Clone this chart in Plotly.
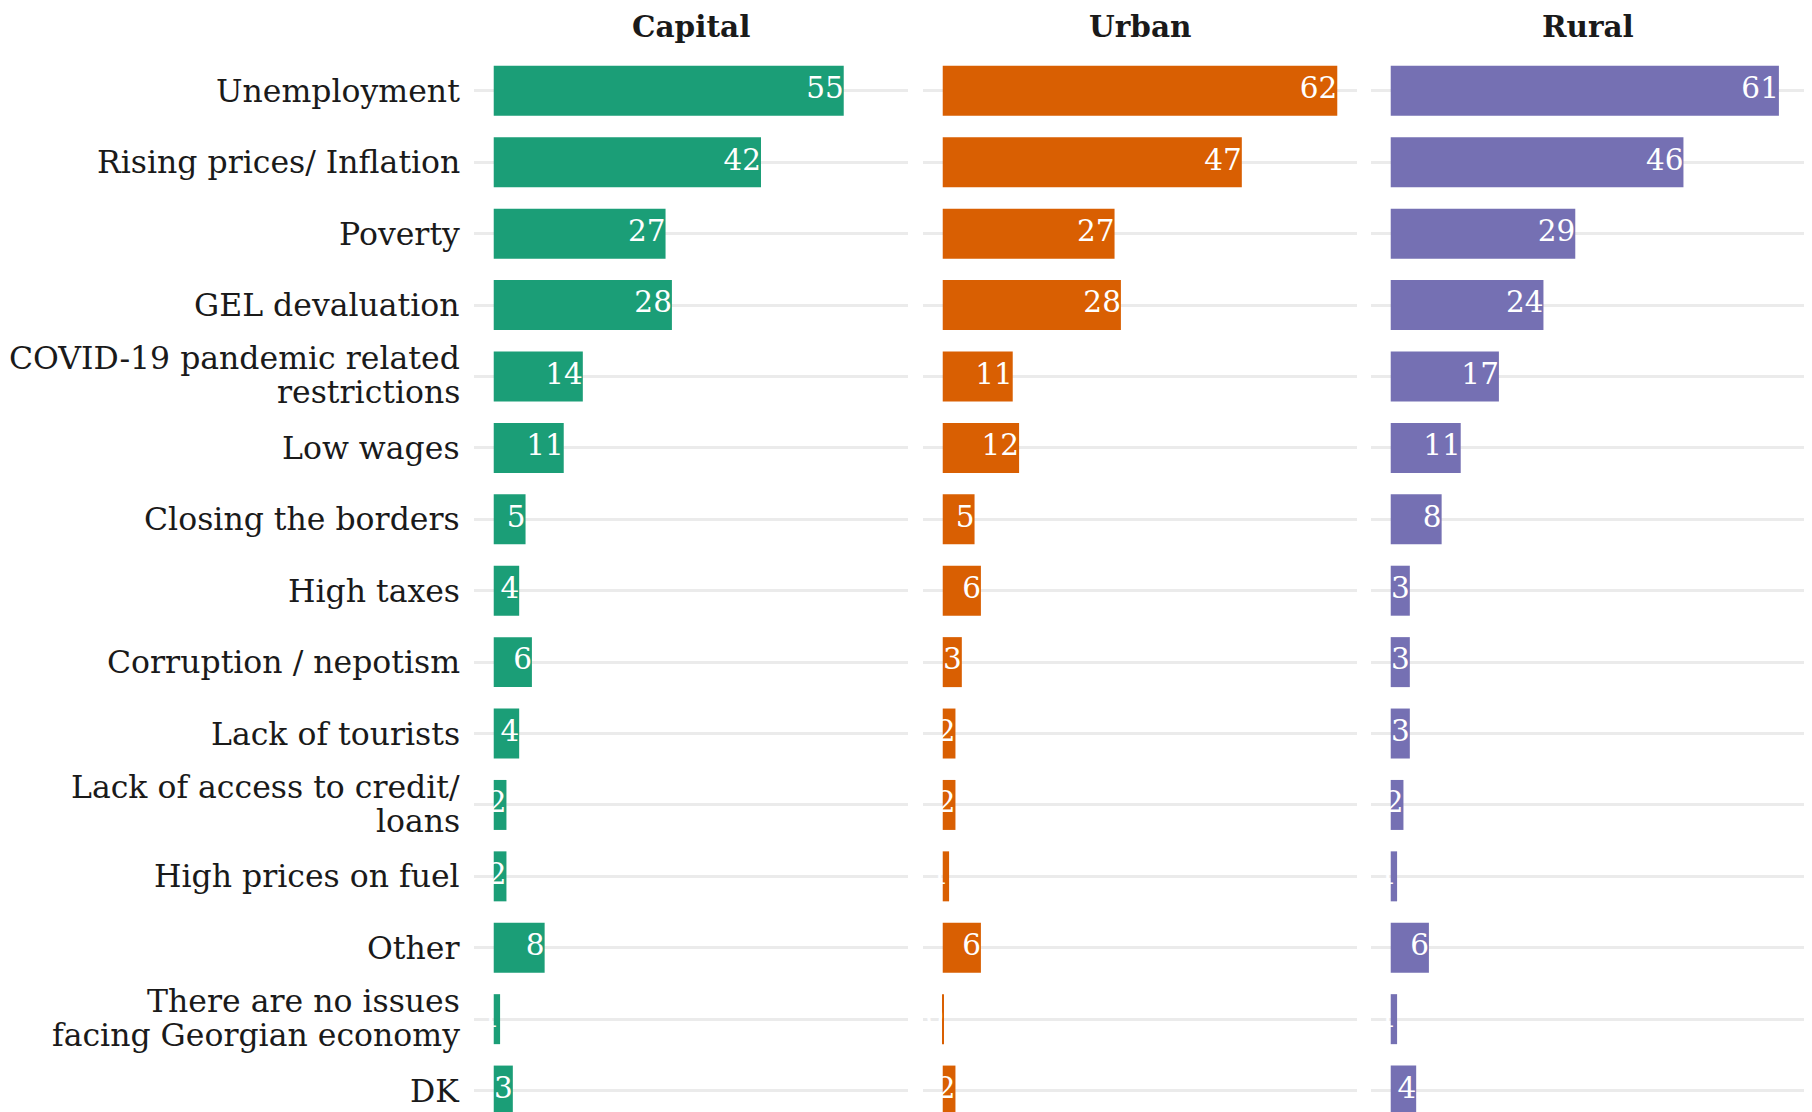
import plotly.graph_objects as go

issues = ["Unemployment", "Rising prices/ Inflation", "Poverty", "GEL devaluation",
          "COVID-19 pandemic related\nrestrictions", "Low wages", "Closing the borders",
          "High taxes", "Corruption / nepotism", "Lack of tourists",
          "Lack of access to credit/\nloans", "High prices on fuel", "Other",
          "There are no issues\nfacing Georgian economy", "DK"]

settlements = ["Capital", "Urban", "Rural"]
capital = [55, 42, 27, 28, 14, 11, 5, 4, 6, 4, 2, 2, 8, 1, 3]
urban = [62, 47, 27, 28, 11, 12, 5, 6, 3, 2, 2, 1, 6, 0.2, 2]
rural = [61, 46, 29, 24, 17, 11, 8, 3, 3, 3, 2, 1, 6, 1, 4]
colors = ["#1B9E77", "#D95F02", "#7570B3"]

FONT = "DejaVu Serif"
PAGE_OFF = 8  # page body margin around the plot div
W, H = 1812 - PAGE_OFF, 1112 - PAGE_OFF
left, right = 474 - PAGE_OFF, 7
plot_w = W - left - right
panels = [(474, 908), (923, 1357), (1371, 1805)]

fig = go.Figure()
for i, (name, vals, col) in enumerate(zip(settlements, [capital, urban, rural], colors)):
    sfx = "" if i == 0 else str(i + 1)
    fig.add_trace(go.Bar(
        x=vals, y=issues, orientation="h", marker=dict(color=col, line=dict(width=0)),
        width=0.7, showlegend=False, xaxis="x" + sfx, yaxis="y" + sfx, hoverinfo="x"))
    fig.add_trace(go.Scatter(
        x=vals, y=issues, mode="text", text=[str(round(v)) for v in vals],
        textposition="middle left", textfont=dict(family=FONT, size=29.5, color="white"),
        showlegend=False, xaxis="x" + sfx, yaxis="y" + sfx, hoverinfo="skip"))
    a, b = panels[i]
    dom = [(a - 474) / plot_w, min(1.0, (b - 474) / plot_w)]
    fig.layout["xaxis" + sfx] = dict(
        domain=dom, range=[-3.1, 65.1], showgrid=False, zeroline=False,
        showticklabels=False, anchor="y" + sfx, automargin=False)
    fig.layout["yaxis" + sfx] = dict(
        anchor="x" + sfx, type="category", categoryarray=issues, range=[14.3, -0.6],
        showgrid=True, gridcolor="#EBEBEB", gridwidth=2.5, zeroline=False,
        showticklabels=False, ticks="", automargin=False)
    fig.add_annotation(
        text="<b>%s</b>" % name, x=(dom[0] + dom[1]) / 2, y=1, xref="paper", yref="paper",
        xanchor="center", yanchor="bottom", yshift=3, borderpad=0, showarrow=False,
        font=dict(family=FONT, size=29.5, color="#1a1a1a"))

# category labels, drawn line by line for a tighter line height
for cat in issues:
    lines = cat.split("\n")
    for j, line in enumerate(lines):
        shift = 0 if len(lines) == 1 else 18 - j * 34
        fig.add_annotation(
            text=line, x=0, y=cat, xref="paper", yref="y", xanchor="right",
            yanchor="middle", xshift=-12, yshift=shift, showarrow=False,
            font=dict(family=FONT, size=31.5, color="#1a1a1a"))

fig.update_layout(
    width=W, height=H, plot_bgcolor="white", paper_bgcolor="white",
    margin=dict(l=left, r=right, t=48 - PAGE_OFF, b=0), bargap=0.3,
    font=dict(family=FONT, color="#1a1a1a"))

fig.write_html("out.html")
